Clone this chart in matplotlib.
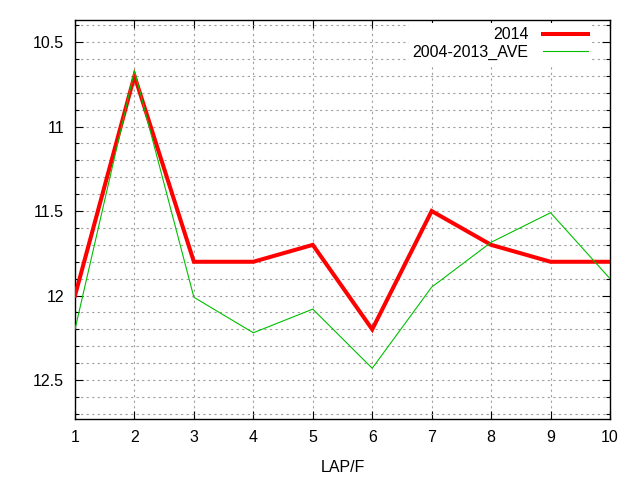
import numpy as np
import matplotlib
matplotlib.use('Agg')
import matplotlib.pyplot as plt
from matplotlib.ticker import MultipleLocator

laps = [1, 2, 3, 4, 5, 6, 7, 8, 9, 10]
y2014 = [12.0, 10.7, 11.8, 11.8, 11.7, 12.2, 11.5, 11.7, 11.8, 11.8]
yave = [12.2, 10.67, 12.01, 12.22, 12.08, 12.43, 11.95, 11.685, 11.51, 11.9]

plt.rcParams['font.family'] = ['Liberation Sans', 'DejaVu Sans']

fig = plt.figure(figsize=(6.4, 4.8), dpi=100)
ax = fig.add_axes([75 / 640, 1 - 419 / 480, 535 / 640, 399 / 480])

ax.plot(laps, y2014, color='#ff0000', lw=2.9, label='2014', zorder=3,
        solid_joinstyle='miter')
ax.plot(laps, yave, color='#00c000', lw=0.8, label='2004-2013_AVE', zorder=3)

ax.set_xlim(1, 10)
ax.set_ylim(12.73, 10.37)
ax.xaxis.set_major_locator(MultipleLocator(1))
ax.yaxis.set_minor_locator(MultipleLocator(0.1))
ax.set_yticks([10.5, 11, 11.5, 12, 12.5])
ax.set_yticklabels(['10.5', '11', '11.5', '12', '12.5'])

ax.grid(True, which='both', axis='y', color='#a0a0a0', ls=(0, (2, 3)), lw=0.8)
ax.grid(True, which='major', axis='x', color='#a0a0a0', ls=(0, (2, 3)), lw=0.8)

ax.tick_params(which='both', direction='in', top=True, right=True,
               labelsize=11.5, colors='black', pad=8)
ax.tick_params(which='major', length=6, width=0.8)
ax.tick_params(which='minor', length=3, width=0.8)
for sp in ax.spines.values():
    sp.set_linewidth(1.0)

ax.set_xlabel('LAP/F', fontsize=11.5, labelpad=11)

leg = ax.legend(loc='upper right', markerfirst=False, handlelength=2.8,
                fontsize=11.5, frameon=True, fancybox=False, framealpha=1,
                edgecolor='none', facecolor='white', borderaxespad=0.2,
                labelspacing=0.15, handletextpad=0.9, borderpad=0.25)
leg.set_bbox_to_anchor((1 - 15 / 535, 1))
for t in leg.get_texts():
    t.set_ha('right')

fig.savefig('out.png', dpi=100)
